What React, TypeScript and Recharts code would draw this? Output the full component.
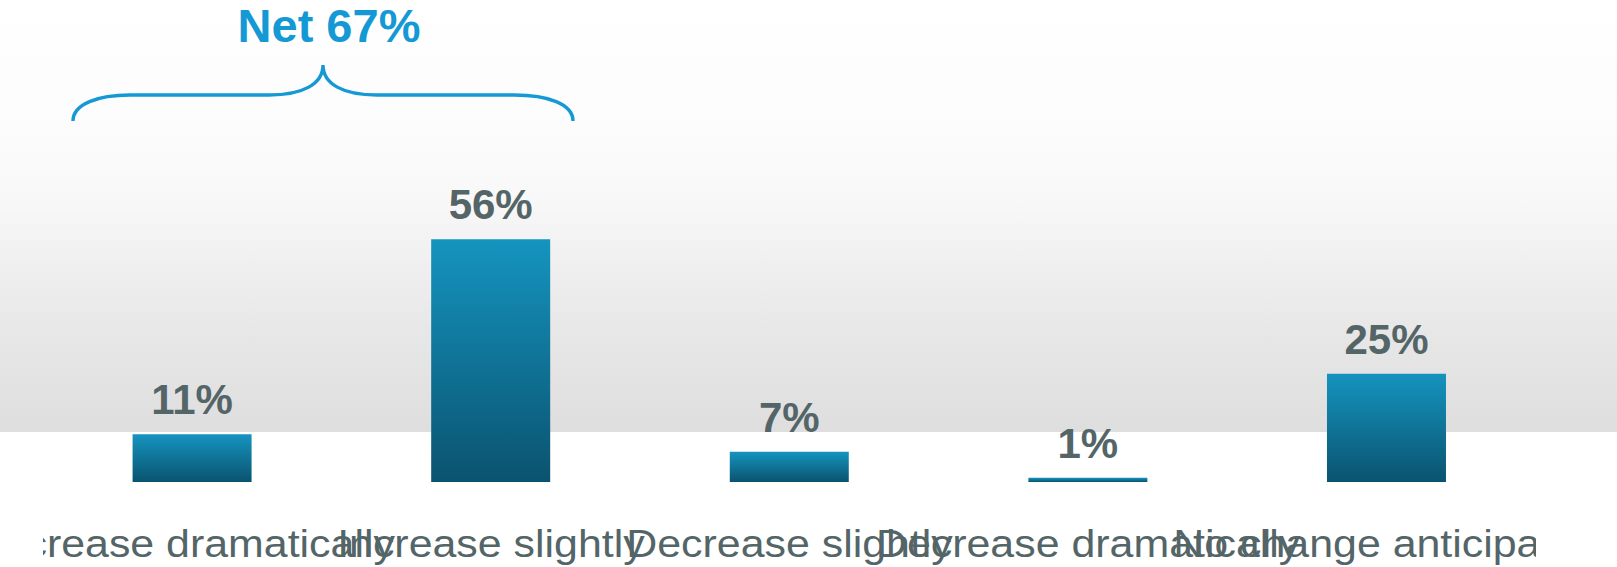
import React from "react";
import { BarChart, Bar, XAxis, YAxis, LabelList } from "recharts";

const categories = [
  "Increase dramatically",
  "Increase slightly",
  "Decrease slightly",
  "Decrease dramatically",
  "No change anticipated",
];
const values = [11, 56, 7, 1, 25];
const netLabel = "Net";
const netIndices = [0, 1];

const data = categories.map((name, i) => ({ name, value: values[i] }));
const netValue = netIndices.reduce((s, i) => s + values[i], 0);

const W = 1617;
const H = 567;
const M_LEFT = 43;
const M_RIGHT = 81;
const M_TOP = 222;
const AXIS_H = 85;
const PLOT_BOTTOM = H - AXIS_H;
const TEXT_GRAY = "#546568";
const BLUE = "#1499d5";
const FONT = "'Liberation Sans', Arial, Helvetica, sans-serif";

const ClippedTick = (props: any) => {
  const { x, payload } = props;
  const plotW = W - M_LEFT - M_RIGHT;
  return (
    <svg x={M_LEFT} y={PLOT_BOTTOM} width={plotW} height={AXIS_H} overflow="hidden">
      <text
        transform={`translate(${x - M_LEFT}, 75) scale(1.1, 1)`}
        x={0}
        y={0}
        textAnchor="middle"
        fill={TEXT_GRAY}
        fontSize={39}
        fontFamily={FONT}
      >
        {payload.value}
      </text>
    </svg>
  );
};

export default function App() {
  return (
    <div
      style={{
        position: "absolute",
        left: 0,
        top: 0,
        width: W,
        height: H,
        background: "#ffffff",
        overflow: "hidden",
      }}
    >
      <div
        style={{
          position: "absolute",
          left: 0,
          top: 0,
          width: W,
          height: 432,
          background:
            "linear-gradient(to bottom, #ffffff 0px, #fcfcfc 120px, #f8f8f8 200px, #efefef 268px, #e7e7e7 333px, #e1e1e1 400px, #dedede 432px)",
        }}
      />
      <div style={{ position: "absolute", left: 0, top: 0 }}>
        <BarChart
          width={W}
          height={H}
          data={data}
          margin={{ top: M_TOP, right: M_RIGHT, bottom: 0, left: M_LEFT }}
          barCategoryGap="30%"
        >
          <defs>
            <linearGradient id="barGrad" x1="0" y1="0" x2="0" y2="1">
              <stop offset="0%" stopColor="#1594bf" />
              <stop offset="100%" stopColor="#0a536f" />
            </linearGradient>
          </defs>
          <XAxis
            dataKey="name"
            height={AXIS_H}
            axisLine={false}
            tickLine={false}
            tickSize={0}
            tickMargin={0}
            interval={0}
            tick={<ClippedTick />}
          />
          <YAxis hide domain={[0, 60]} />
          <Bar dataKey="value" fill="url(#barGrad)" isAnimationActive={false}>
            <LabelList
              dataKey="value"
              position="top"
              offset={20}
              formatter={(v: any) => `${v}%`}
              fill={TEXT_GRAY}
              fontSize={42}
              fontWeight="bold"
              fontFamily={FONT}
            />
          </Bar>
        </BarChart>
      </div>
      <svg
        width={W}
        height={140}
        style={{ position: "absolute", left: 0, top: 0 }}
      >
        <text
          x={329}
          y={42}
          textAnchor="middle"
          fill={BLUE}
          fontSize={47}
          fontWeight="bold"
          fontFamily={FONT}
        >
          {`${netLabel} ${netValue}%`}
        </text>
        <path
          d="M73,121 C73,104 98,95 130,95 L269,95 C303,95 323,84 323,65 C323,84 343,95 377,95 L514,95 C548,95 573,104 573,121"
          fill="none"
          stroke={BLUE}
          strokeWidth={3.4}
        />
      </svg>
    </div>
  );
}
